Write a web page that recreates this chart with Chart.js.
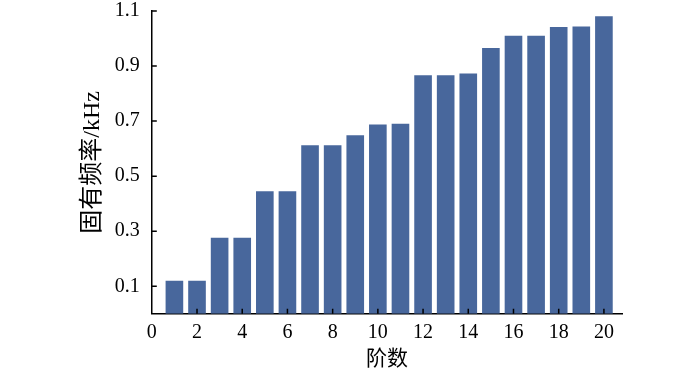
<!DOCTYPE html>
<html>
<head>
<meta charset="utf-8">
<script src="https://cdn.jsdelivr.net/npm/chart.js@4"></script>
<style>
    html, body { margin: 0; padding: 0; background: #fff; }
    #wrap { width: 700px; height: 372px; }
</style>
</head>
<body>
<div id="wrap"><canvas id="barChart" width="700" height="372"></canvas></div>
<script>
// 阶数 vs 固有频率 (kHz)
const orders = [1, 2, 3, 4, 5, 6, 7, 8, 9, 10, 11, 12, 13, 14, 15, 16, 17, 18, 19, 20];
const freqs = [0.12, 0.12, 0.276, 0.276, 0.445, 0.445, 0.612, 0.612, 0.649, 0.688,
               0.690, 0.867, 0.867, 0.873, 0.966, 1.010, 1.010, 1.042, 1.044, 1.081];
const yTicks = [0.1, 0.3, 0.5, 0.7, 0.9, 1.1];
const xTicks = [0, 2, 4, 6, 8, 10, 12, 14, 16, 18, 20];

const serif = "'Liberation Serif', 'Noto Sans CJK SC', serif";

// ticks drawn on the inside of the axes
const innerTicks = {
    id: 'innerTicks',
    afterDraw(chart) {
        const ctx = chart.ctx;
        const xs = chart.scales.x, ys = chart.scales.y;
        const area = chart.chartArea;
        ctx.save();
        ctx.strokeStyle = '#000';
        ctx.lineWidth = 1.5;
        ctx.beginPath();
        xs.ticks.forEach(t => {
            if (t.value === 0) return;
            const px = xs.getPixelForValue(t.value);
            ctx.moveTo(px, area.bottom);
            ctx.lineTo(px, area.bottom - 5);
        });
        ys.ticks.forEach(t => {
            const py = ys.getPixelForValue(t.value);
            ctx.moveTo(area.left, py);
            ctx.lineTo(area.left + 5, py);
        });
        ctx.stroke();
        ctx.restore();
    }
};

new Chart(document.getElementById('barChart').getContext('2d'), {
    type: 'bar',
    data: {
        datasets: [{
            data: orders.map((o, i) => ({ x: o, y: freqs[i] })),
            backgroundColor: '#48679c',
            borderWidth: 0,
            barPercentage: 0.78,
            categoryPercentage: 1
        }]
    },
    options: {
        responsive: false,
        animation: false,
        layout: { padding: { left: 78, right: 78, top: 0, bottom: 0 } },
        plugins: { legend: { display: false }, tooltip: { enabled: false } },
        scales: {
            x: {
                type: 'linear',
                offset: false,
                min: 0,
                max: 20.8,
                afterBuildTicks: axis => { axis.ticks = xTicks.map(v => ({ value: v })); },
                grid: { drawOnChartArea: false, drawTicks: false },
                border: { display: true, color: '#000', width: 1.5 },
                ticks: { color: '#000', padding: 7, maxRotation: 0, font: { family: serif, size: 20 } },
                title: { display: true, text: '阶数', color: '#000', padding: { top: -5, bottom: 0 }, font: { family: serif, size: 21 } }
            },
            y: {
                min: 0,
                max: 1.1,
                afterBuildTicks: axis => { axis.ticks = yTicks.map(v => ({ value: v })); },
                afterFit: axis => { axis.paddingTop = 11; },
                grid: { drawOnChartArea: false, drawTicks: false },
                border: { display: true, color: '#000', width: 1.5 },
                ticks: { color: '#000', padding: 12, callback: v => v.toFixed(1), font: { family: serif, size: 20 } },
                title: { display: true, text: '固有频率/kHz', color: '#000', padding: { top: 0, bottom: -4 }, font: { family: serif, size: 24 } }
            }
        }
    },
    plugins: [innerTicks]
});
</script>
</body>
</html>
